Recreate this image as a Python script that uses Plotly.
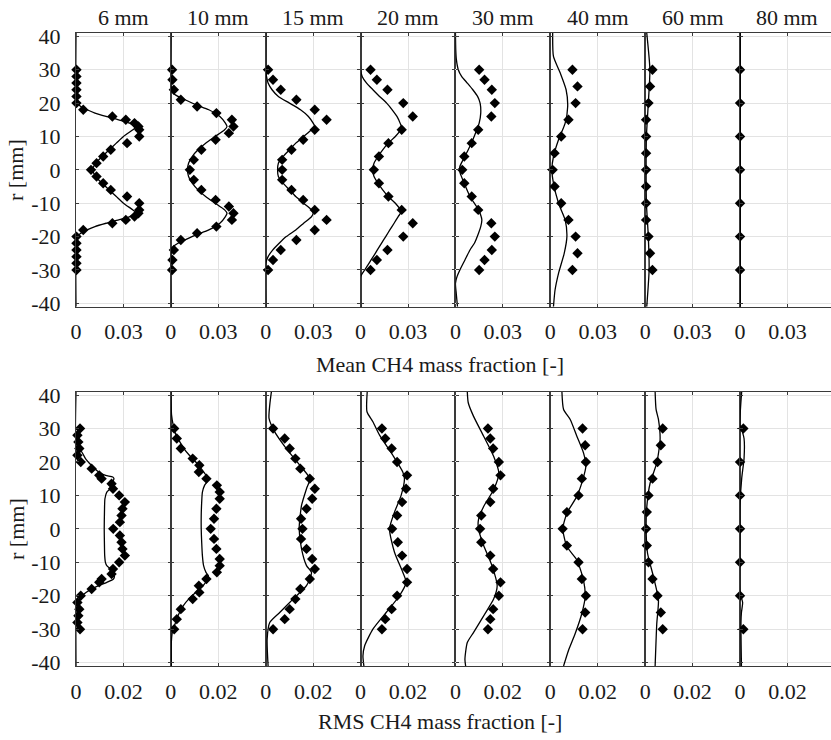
import plotly.graph_objects as go

# ---------------- data ----------------
positions = ["6 mm", "10 mm", "15 mm", "20 mm", "30 mm", "40 mm", "60 mm", "80 mm"]

# Mean CH4 mass fraction - experiment (diamonds)
mean_exp_r_6 = [30, 28, 26, 24, 22, 20, 18, 16, 15, 14, 13, 12, 10, 8, 6, 4, 2, 0, -2, -4, -6, -8, -10, -12, -13, -14, -15, -16, -18, -20, -22, -24, -26, -28, -30]
mean_exp_v_6 = [0.0003, 0.0003, 0.0003, 0.0003, 0.0003, 0.0003, 0.0046, 0.023, 0.0315, 0.037, 0.0395, 0.040, 0.040, 0.0323, 0.022, 0.0172, 0.013, 0.0095, 0.013, 0.0172, 0.022, 0.0323, 0.040, 0.040, 0.0395, 0.037, 0.0315, 0.023, 0.0046, 0.0003, 0.0003, 0.0003, 0.0003, 0.0003, 0.0003]
mean_exp_r_10 = [30, 27, 24, 21, 19, 17, 15, 13, 11, 9, 6, 3, 0, -3, -6, -9, -11, -13, -15, -17, -19, -21, -24, -27, -30]
mean_exp_v_10 = [0.0008, 0.0010, 0.0019, 0.0063, 0.0166, 0.0288, 0.0386, 0.0396, 0.0367, 0.0283, 0.0193, 0.0145, 0.0120, 0.0145, 0.0193, 0.0283, 0.0367, 0.0396, 0.0386, 0.0288, 0.0166, 0.0063, 0.0019, 0.0010, 0.0008]
mean_exp_r_15 = [30, 27, 24, 21, 18, 15, 12, 9, 6, 3, 0, -3, -6, -9, -12, -15, -18, -21, -24, -27, -30]
mean_exp_v_15 = [0.0015, 0.0046, 0.0095, 0.0194, 0.031, 0.0385, 0.031, 0.0237, 0.0163, 0.0104, 0.0104, 0.0104, 0.0163, 0.0237, 0.031, 0.0385, 0.031, 0.0194, 0.0095, 0.0046, 0.0015]
mean_exp_r_20 = [30, 27, 24, 20, 16, 12, 8, 4, 0, -4, -8, -12, -16, -20, -24, -27, -30]
mean_exp_v_20 = [0.0063, 0.0103, 0.017, 0.027, 0.033, 0.026, 0.0176, 0.0116, 0.0084, 0.0116, 0.0176, 0.026, 0.033, 0.027, 0.017, 0.0103, 0.0063]
mean_exp_r_30 = [30, 27, 24, 20, 16, 12, 8, 4, 0, -4, -8, -12, -16, -20, -24, -27, -30]
mean_exp_v_30 = [0.015, 0.0184, 0.023, 0.0249, 0.0227, 0.0144, 0.0103, 0.0056, 0.0043, 0.0056, 0.0103, 0.0144, 0.0227, 0.0249, 0.023, 0.0184, 0.015]
mean_exp_r_40 = [30, 25, 20, 15, 10, 5, 0, -5, -10, -15, -20, -25, -30]
mean_exp_v_40 = [0.014, 0.0172, 0.016, 0.0115, 0.0069, 0.0027, 0.0015, 0.0027, 0.0069, 0.0115, 0.016, 0.0172, 0.014]
mean_exp_r_60 = [30, 25, 20, 15, 10, 5, 0, -5, -10, -15, -20, -25, -30]
mean_exp_v_60 = [0.0046, 0.0031, 0.0021, 0.0006, 0.0006, 0.0006, 0.0006, 0.0006, 0.0006, 0.0006, 0.0021, 0.0031, 0.0046]
mean_exp_r_80 = [30, 20, 10, 0, -10, -20, -30]
mean_exp_v_80 = [0.0, 0.0, 0.0, 0.0, 0.0, 0.0, 0.0]

# Mean CH4 mass fraction - simulation (lines)
mean_sim_r_6 = [41, 21, 20.5, 20, 19, 18, 17, 16, 15, 14, 13, 12.5, 12, 10, 8, 6, 4, 2, 0, -2, -4, -6, -8, -10, -12, -12.5, -13, -14, -15, -16, -17, -18, -19, -20, -20.5, -21, -41]
mean_sim_v_6 = [0, 0, 0.0003, 0.0008, 0.003, 0.007, 0.012, 0.019, 0.027, 0.034, 0.037, 0.0372, 0.036, 0.030, 0.0255, 0.021, 0.0165, 0.0125, 0.0105, 0.0125, 0.0165, 0.021, 0.0255, 0.030, 0.036, 0.0372, 0.037, 0.034, 0.027, 0.019, 0.012, 0.007, 0.003, 0.0008, 0.0003, 0, 0]
mean_sim_r_10 = [41, 25, 23, 22, 21, 19.5, 18, 16, 14, 13, 12, 10, 8, 6, 4, 2, 0, -2, -4, -6, -8, -10, -12, -13, -14, -16, -18, -19.5, -21, -22, -23, -25, -41]
mean_sim_v_10 = [0, 0, 0.0015, 0.0045, 0.009, 0.016, 0.024, 0.031, 0.0345, 0.0355, 0.034, 0.028, 0.022, 0.0172, 0.0135, 0.0112, 0.0105, 0.0112, 0.0135, 0.0172, 0.022, 0.028, 0.034, 0.0355, 0.0345, 0.031, 0.024, 0.016, 0.009, 0.0045, 0.0015, 0, 0]
mean_sim_r_15 = [41, 30, 28, 26, 24, 22, 20, 18, 16, 14, 13, 12, 10, 8, 6, 4, 2, 0, -2, -4, -6, -8, -10, -12, -13, -14, -16, -18, -20, -22, -24, -26, -28, -41]
mean_sim_v_15 = [0, 0, 0.0005, 0.0015, 0.004, 0.008, 0.015, 0.022, 0.027, 0.030, 0.031, 0.029, 0.024, 0.019, 0.015, 0.011, 0.008, 0.0075, 0.008, 0.011, 0.015, 0.019, 0.024, 0.029, 0.030, 0.029, 0.024, 0.019, 0.013, 0.0085, 0.0045, 0.0015, 0, 0]
mean_sim_r_20 = [41, 30, 28, 26, 24, 22, 20, 18, 16, 14, 12.5, 10, 8, 6, 4, 2, 0, -2, -4, -6, -8, -10, -12.5, -14, -16, -18, -20, -22, -24, -26, -28, -30, -32, -41]
mean_sim_v_20 = [0, 0, 0.001, 0.0038, 0.0078, 0.012, 0.0165, 0.020, 0.023, 0.025, 0.026, 0.022, 0.0175, 0.014, 0.011, 0.0085, 0.0075, 0.0085, 0.011, 0.014, 0.0175, 0.022, 0.0258, 0.0238, 0.0212, 0.0185, 0.0159, 0.0132, 0.0106, 0.008, 0.0053, 0.0026, 0, 0]
mean_sim_r_30 = [41, 36, 33, 30, 28, 26, 24, 22, 20, 17, 14, 12, 9, 6, 3, 1, 0, -1, -4, -8, -12, -15, -17, -19, -22, -24, -27, -30, -32, -34, -37, -41]
mean_sim_v_30 = [0, 0.0002, 0.0006, 0.0018, 0.0039, 0.0075, 0.011, 0.014, 0.0156, 0.016, 0.015, 0.0135, 0.011, 0.0081, 0.0048, 0.0028, 0.0027, 0.003, 0.0055, 0.0092, 0.0146, 0.0167, 0.016, 0.0146, 0.012, 0.0092, 0.006, 0.0028, 0.001, 0, 0.0005, 0.0013]
mean_sim_r_40 = [41, 34, 29, 24, 19, 14, 9, 4, 0, -4, -10, -15, -20, -25, -31, -36, -41]
mean_sim_v_40 = [0.0015, 0.002, 0.0063, 0.010, 0.011, 0.0094, 0.0052, 0.002, 0.001, 0.002, 0.0052, 0.0094, 0.0105, 0.0088, 0.0052, 0.003, 0.002]
mean_sim_r_60 = [41, 30, 20, 10, 0, -10, -20, -30, -41]
mean_sim_v_60 = [0.001, 0.003, 0.002, 0.0008, 0.0006, 0.0008, 0.002, 0.0025, 0.001]
mean_sim_r_80 = [41, 0, -41]
mean_sim_v_80 = [0.0002, 0.0002, 0.0002]

# RMS CH4 mass fraction - experiment (diamonds)
rms_exp_r_6 = [30, 28, 26, 24, 22, 20, 18, 16, 15, 13.5, 12, 10, 8, 6, 4, 2, 0, -2, -4, -6, -8, -10, -12, -13.5, -15, -16, -18, -20, -22, -24, -26, -28, -30]
rms_exp_v_6 = [0.0017, 0.0006, 0.001, 0.0014, 0.0006, 0.002, 0.0066, 0.0098, 0.0108, 0.015, 0.0156, 0.0182, 0.0206, 0.0196, 0.0192, 0.0185, 0.0157, 0.0185, 0.0192, 0.0196, 0.0206, 0.0182, 0.0156, 0.015, 0.0108, 0.0098, 0.0066, 0.002, 0.0006, 0.0014, 0.001, 0.0006, 0.0017]
rms_exp_r_10 = [30, 27, 24, 21, 19, 17, 15, 13, 11, 9, 6, 3, 0, -3, -6, -9, -11, -13, -15, -17, -19, -21, -24, -27, -30]
rms_exp_v_10 = [0.0014, 0.0025, 0.0042, 0.0092, 0.012, 0.0118, 0.015, 0.0194, 0.0206, 0.0206, 0.0192, 0.0182, 0.0168, 0.0182, 0.0192, 0.0206, 0.0206, 0.0194, 0.015, 0.0118, 0.012, 0.0092, 0.0042, 0.0025, 0.0014]
rms_exp_r_15 = [30, 27, 24, 21, 18, 15, 12, 9, 6, 3, 0, -3, -6, -9, -12, -15, -18, -21, -24, -27, -30]
rms_exp_v_15 = [0.0031, 0.008, 0.0101, 0.0125, 0.0146, 0.0186, 0.0207, 0.0196, 0.0172, 0.0149, 0.0155, 0.0149, 0.0172, 0.0196, 0.0207, 0.0186, 0.0146, 0.0125, 0.0101, 0.008, 0.0031]
rms_exp_r_20 = [30, 27, 24, 20, 16, 12, 8, 4, 0, -4, -8, -12, -16, -20, -24, -27, -30]
rms_exp_v_20 = [0.009, 0.0104, 0.0131, 0.0154, 0.0196, 0.0192, 0.0175, 0.0154, 0.0133, 0.0157, 0.0175, 0.0196, 0.0196, 0.0154, 0.0131, 0.0104, 0.009]
rms_exp_r_30 = [30, 27, 24, 20, 16, 12, 8, 4, 0, -4, -8, -12, -16, -20, -24, -27, -30]
rms_exp_v_30 = [0.0137, 0.0147, 0.0159, 0.0183, 0.019, 0.0159, 0.0147, 0.0109, 0.0104, 0.0109, 0.0147, 0.0159, 0.019, 0.0183, 0.0159, 0.0147, 0.0137]
rms_exp_r_40 = [30, 25, 20, 15, 10, 5, 0, -5, -10, -15, -20, -25, -30]
rms_exp_v_40 = [0.0136, 0.0147, 0.015, 0.0133, 0.0119, 0.007, 0.0052, 0.007, 0.0119, 0.0133, 0.015, 0.0147, 0.0136]
rms_exp_r_60 = [30, 25, 20, 15, 10, 5, 0, -5, -10, -15, -20, -25, -30]
rms_exp_v_60 = [0.0074, 0.0066, 0.0052, 0.0031, 0.0014, 0.0007, 0.0004, 0.0007, 0.0014, 0.0031, 0.0052, 0.0066, 0.0074]
rms_exp_r_80 = [30, 20, 10, 0, -10, -20, -30]
rms_exp_v_80 = [0.0014, 0.0, 0.0, 0.0, 0.0, 0.0, 0.0014]

# RMS CH4 mass fraction - simulation (lines)
rms_sim_r_6 = [41, 25, 24, 23, 21, 19, 17, 16, 15.5, 15, 14, 12, 11, 9, 5, 0, -5, -8, -10, -11, -12, -13, -14, -15, -16, -17, -18, -19, -20, -22, -24, -25, -41]
rms_sim_v_6 = [0, 0, 0.0008, 0.0024, 0.004, 0.0065, 0.0095, 0.0125, 0.0155, 0.016, 0.0155, 0.0145, 0.013, 0.0122, 0.012, 0.0119, 0.012, 0.0121, 0.0124, 0.013, 0.0145, 0.0155, 0.0162, 0.0158, 0.013, 0.0095, 0.0065, 0.0042, 0.0025, 0.001, 0.0002, 0, 0]
rms_sim_r_10 = [41, 34, 31, 28, 26, 24, 22, 20, 18, 16, 14.5, 13, 11, 8, 4, 0, -4, -8, -11, -13, -14, -15, -17, -19, -21, -23, -26, -29, -31, -34, -41]
rms_sim_v_10 = [0, 0.0003, 0.001, 0.0022, 0.0038, 0.0055, 0.0078, 0.0105, 0.0128, 0.0148, 0.0156, 0.0142, 0.0133, 0.013, 0.0128, 0.0128, 0.013, 0.0133, 0.0138, 0.0148, 0.0158, 0.0155, 0.0136, 0.0105, 0.0075, 0.0052, 0.003, 0.0015, 0.0006, 0.0002, 0.0002]
rms_sim_r_15 = [41, 37, 33, 29, 24, 19, 15, 12, 7, 0, -6, -11, -13, -17, -21, -25, -28, -33, -41]
rms_sim_v_15 = [0.0024, 0.0017, 0.0014, 0.0038, 0.0087, 0.0144, 0.0186, 0.0172, 0.0151, 0.0141, 0.0151, 0.0172, 0.0193, 0.0172, 0.0115, 0.0059, 0.0017, 0.0006, 0.001]
rms_sim_r_20 = [41, 35, 32, 28, 22, 17, 15, 10, 5, 0, -7, -13, -16, -20, -25, -30, -35, -38, -41]
rms_sim_v_20 = [0.0028, 0.0027, 0.0052, 0.008, 0.0136, 0.0178, 0.0185, 0.0171, 0.0143, 0.0122, 0.0143, 0.0178, 0.0192, 0.0164, 0.0108, 0.0052, 0.0017, 0.001, 0.0014]
rms_sim_r_30 = [41, 37.7, 33.7, 27.7, 21.7, 16.7, 11.7, 6.7, 2.7, 0, -5, -11, -17, -21, -26, -31, -34, -39, -41]
rms_sim_v_30 = [0.005, 0.0054, 0.0076, 0.0119, 0.0161, 0.0183, 0.0161, 0.0119, 0.0097, 0.0097, 0.0119, 0.0154, 0.0176, 0.0161, 0.0119, 0.0076, 0.005, 0.004, 0.0043]
rms_sim_r_40 = [41, 35.7, 32.7, 27.7, 22.7, 18.7, 14.7, 9.7, 4.7, 0, -5.3, -9.3, -15.3, -20.3, -25.3, -31.3, -36.3, -41]
rms_sim_v_40 = [0.0049, 0.0056, 0.0084, 0.0112, 0.014, 0.015, 0.0137, 0.0112, 0.007, 0.0053, 0.007, 0.0112, 0.014, 0.0147, 0.0133, 0.0105, 0.0077, 0.0056]
rms_sim_r_60 = [41, 35.7, 32.7, 26.7, 19.7, 13.7, 6.7, 0, -7.3, -14.3, -21.3, -28.3, -33.3, -41]
rms_sim_v_60 = [0.0042, 0.0046, 0.0056, 0.0063, 0.0049, 0.0021, 0.0007, 0.0004, 0.001, 0.0035, 0.0056, 0.0049, 0.0046, 0.0042]
rms_sim_r_80 = [41, 31, 29, 27, 21, 18, 15, 7, -3, -19, -22, -25, -28, -41]
rms_sim_v_80 = [0.0007, 0, 0.001, 0.0017, 0.0017, 0.0012, 0.0007, 0, 0, 0, 0.0011, 0.0006, 0.0004, 0.0006]

r_ticks = [40, 30, 20, 10, 0, -10, -20, -30, -40]
mean_ticks = [0, 0.03]
mean_tick_text = ["0", "0.03"]
rms_ticks = [0, 0.02]
rms_tick_text = ["0", "0.02"]

mean_exp = [(mean_exp_r_6, mean_exp_v_6), (mean_exp_r_10, mean_exp_v_10), (mean_exp_r_15, mean_exp_v_15),
            (mean_exp_r_20, mean_exp_v_20), (mean_exp_r_30, mean_exp_v_30), (mean_exp_r_40, mean_exp_v_40),
            (mean_exp_r_60, mean_exp_v_60), (mean_exp_r_80, mean_exp_v_80)]
mean_sim = [(mean_sim_r_6, mean_sim_v_6), (mean_sim_r_10, mean_sim_v_10), (mean_sim_r_15, mean_sim_v_15),
            (mean_sim_r_20, mean_sim_v_20), (mean_sim_r_30, mean_sim_v_30), (mean_sim_r_40, mean_sim_v_40),
            (mean_sim_r_60, mean_sim_v_60), (mean_sim_r_80, mean_sim_v_80)]
rms_exp = [(rms_exp_r_6, rms_exp_v_6), (rms_exp_r_10, rms_exp_v_10), (rms_exp_r_15, rms_exp_v_15),
           (rms_exp_r_20, rms_exp_v_20), (rms_exp_r_30, rms_exp_v_30), (rms_exp_r_40, rms_exp_v_40),
           (rms_exp_r_60, rms_exp_v_60), (rms_exp_r_80, rms_exp_v_80)]
rms_sim = [(rms_sim_r_6, rms_sim_v_6), (rms_sim_r_10, rms_sim_v_10), (rms_sim_r_15, rms_sim_v_15),
           (rms_sim_r_20, rms_sim_v_20), (rms_sim_r_30, rms_sim_v_30), (rms_sim_r_40, rms_sim_v_40),
           (rms_sim_r_60, rms_sim_v_60), (rms_sim_r_80, rms_sim_v_80)]

# ---------------- layout geometry ----------------
W, H = 831, 740
ML, MR, MT, MB = 76, 0, 33, 74
PW = W - ML - MR
PH = H - MT - MB
panel_w = 94.86
FONT = "Liberation Serif"
AX = "#3a3a3a"
GRID = "#e3e3e3"
TXT = "#1a1a1a"


def py2paper(py):
    return (H - MB - py) / PH


def px2paper(px):
    return (px - ML) / PW


row_dom = [[py2paper(306.7), 1.0], [0.0, py2paper(391.7)]]
row_max = [0.06, 0.04]

fig = go.Figure()
layout = {}
n = 0
for row, (exp_set, sim_set, ticks, ttext) in enumerate([(mean_exp, mean_sim, mean_ticks, mean_tick_text),
                                                         (rms_exp, rms_sim, rms_ticks, rms_tick_text)]):
    for col in range(8):
        n += 1
        xa = "x" if n == 1 else f"x{n}"
        ya = "y" if n == 1 else f"y{n}"
        x0 = col * panel_w / PW
        x1 = min((col + 1) * panel_w / PW, 1.0)
        frac = (x1 - x0) * PW / panel_w
        sr, sv = sim_set[col]
        er, ev = exp_set[col]
        fig.add_trace(go.Scatter(x=sv, y=sr, mode="lines", xaxis=xa, yaxis=ya,
                                 line=dict(color="black", width=1.3, shape="spline", smoothing=0.6),
                                 showlegend=False, hoverinfo="skip"))
        fig.add_trace(go.Scatter(x=ev, y=er, mode="markers", xaxis=xa, yaxis=ya,
                                 marker=dict(symbol="diamond", size=8, color="black", line=dict(width=0)),
                                 showlegend=False, cliponaxis=False))
        last = col == 7
        layout["xaxis" if n == 1 else f"xaxis{n}"] = dict(
            domain=[x0, x1], anchor=ya, range=[0, row_max[row] * frac],
            tickmode="array", tickvals=ticks, ticktext=ttext,
            showgrid=True, gridcolor=GRID, gridwidth=1, zeroline=False,
            showline=True, linecolor=AX, linewidth=1.2, mirror="ticks",
            ticks="inside", ticklen=3, tickcolor=AX, tickwidth=1,
            tickfont=dict(family=FONT, size=22, color=TXT), ticklabelstandoff=5,
            fixedrange=True)
        layout["yaxis" if n == 1 else f"yaxis{n}"] = dict(
            domain=row_dom[row], anchor=xa, range=[-41, 41],
            tickmode="array", tickvals=r_ticks, ticktext=[str(t) for t in r_ticks],
            showticklabels=(col == 0),
            showgrid=True, gridcolor=GRID, gridwidth=1, zeroline=False,
            showline=True, linecolor=AX, linewidth=1.2, mirror=(False if last else "ticks"),
            ticks="inside", ticklen=3, tickcolor=AX, tickwidth=1,
            tickfont=dict(family=FONT, size=22, color=TXT), ticklabelstandoff=10,
            fixedrange=True)

annotations = []
for col, name in enumerate(positions):
    cx = ML + (col + 0.5) * panel_w
    annotations.append(dict(text=name, x=px2paper(cx), y=py2paper(17), xref="paper", yref="paper",
                            xanchor="center", yanchor="middle", showarrow=False,
                            font=dict(family=FONT, size=22, color=TXT)))
annotations.append(dict(text="Mean CH4 mass fraction [-]", x=px2paper(440), y=py2paper(364),
                        xref="paper", yref="paper", xanchor="center", yanchor="middle", showarrow=False,
                        font=dict(family=FONT, size=22, color=TXT)))
annotations.append(dict(text="RMS CH4 mass fraction [-]", x=px2paper(440), y=py2paper(721),
                        xref="paper", yref="paper", xanchor="center", yanchor="middle", showarrow=False,
                        font=dict(family=FONT, size=22, color=TXT)))
for cy in [170, 529]:
    annotations.append(dict(text="r [mm]", x=px2paper(16), y=py2paper(cy), xref="paper", yref="paper",
                            xanchor="center", yanchor="middle", showarrow=False, textangle=-90,
                            font=dict(family=FONT, size=22, color=TXT)))

fig.update_layout(**layout)
fig.update_layout(width=W, height=H, margin=dict(l=ML, r=MR, t=MT, b=MB, pad=0),
                  paper_bgcolor="white", plot_bgcolor="white",
                  font=dict(family=FONT),
                  annotations=annotations, showlegend=False)

fig.write_html("out.html")
